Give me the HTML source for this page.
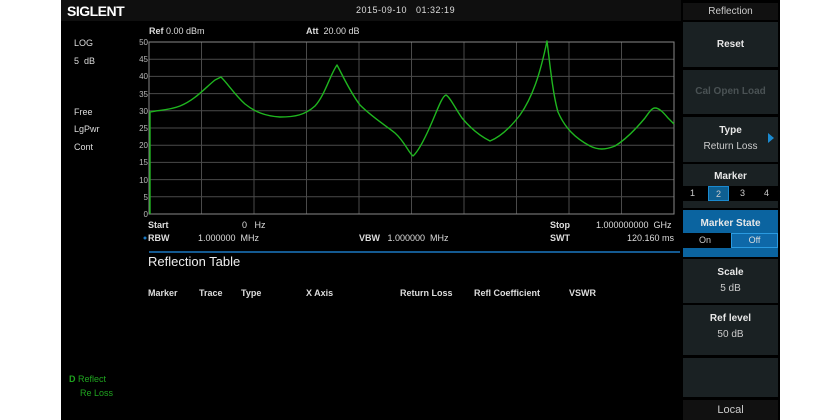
<!DOCTYPE html>
<html><head><meta charset="utf-8"><style>
body{margin:0;width:840px;height:420px;background:#fff;overflow:hidden;font-family:"Liberation Sans",sans-serif;}
#scr{position:absolute;left:61px;top:0;width:719px;height:420px;background:#000;}
.t{position:absolute;white-space:nowrap;}
.h{position:absolute;top:288px;color:#ddd;font-size:9px;font-weight:bold;white-space:nowrap}
.btn{position:absolute;left:683px;width:95px;background:#1a2123;color:#e8e8e8;text-align:center;font-size:10px;font-weight:bold;}
.sub{font-weight:normal;color:#ccc;}
</style></head><body>
<div id="scr"></div>
<div style="position:absolute;left:61px;top:0;width:620px;height:21px;background:#0f0f0f"></div>
<div class="t" style="left:67px;top:3px;color:#fff;font-weight:bold;font-size:14px;letter-spacing:-0.5px">SIGLENT</div>
<div class="t" style="left:356px;top:5px;color:#ddd;font-size:9px;letter-spacing:0.5px">2015-09-10&nbsp;&nbsp;&nbsp;01:32:19</div>
<div class="t" style="left:149px;top:26px;color:#ddd;font-size:9px"><b>Ref</b> 0.00 dBm</div>
<div class="t" style="left:306px;top:26px;color:#ddd;font-size:9px"><b>Att</b>&nbsp; 20.00 dB</div>
<div class="t" style="left:74px;top:38px;color:#ddd;font-size:9px">LOG</div>
<div class="t" style="left:74px;top:56px;color:#ddd;font-size:9px">5&nbsp; dB</div>
<div class="t" style="left:74px;top:107px;color:#ddd;font-size:9px">Free</div>
<div class="t" style="left:74px;top:124px;color:#ddd;font-size:9px">LgPwr</div>
<div class="t" style="left:74px;top:142px;color:#ddd;font-size:9px">Cont</div>
<div class="t" style="left:69px;top:374px;color:#1fa51f;font-size:9px"><b>D</b> Reflect</div>
<div class="t" style="left:80px;top:388px;color:#1fa51f;font-size:9px">Re Loss</div>
<svg style="position:absolute;left:0;top:0" width="840" height="420">
<g stroke="#4a4a4a" stroke-width="1">
<line x1="149" y1="59.2" x2="674" y2="59.2"/><line x1="149" y1="76.4" x2="674" y2="76.4"/><line x1="149" y1="93.6" x2="674" y2="93.6"/><line x1="149" y1="110.8" x2="674" y2="110.8"/><line x1="149" y1="128" x2="674" y2="128"/><line x1="149" y1="145.2" x2="674" y2="145.2"/><line x1="149" y1="162.4" x2="674" y2="162.4"/><line x1="149" y1="179.6" x2="674" y2="179.6"/><line x1="149" y1="196.8" x2="674" y2="196.8"/>
<line x1="201.5" y1="42" x2="201.5" y2="214"/><line x1="254" y1="42" x2="254" y2="214"/><line x1="306.5" y1="42" x2="306.5" y2="214"/><line x1="359" y1="42" x2="359" y2="214"/><line x1="411.5" y1="42" x2="411.5" y2="214"/><line x1="464" y1="42" x2="464" y2="214"/><line x1="516.5" y1="42" x2="516.5" y2="214"/><line x1="569" y1="42" x2="569" y2="214"/><line x1="621.5" y1="42" x2="621.5" y2="214"/>
</g>
<rect x="149" y="42" width="525" height="172" fill="none" stroke="#888" stroke-width="1"/>
<g fill="#bbb" font-size="8" font-family="Liberation Sans" text-anchor="end">
<text x="148" y="45">50</text><text x="148" y="62">45</text><text x="148" y="79">40</text><text x="148" y="97">35</text><text x="148" y="114">30</text><text x="148" y="131">25</text><text x="148" y="148">20</text><text x="148" y="165">15</text><text x="148" y="183">10</text><text x="148" y="200">5</text><text x="148" y="217">0</text>
</g>
<path fill="none" stroke="#1fb51f" stroke-width="1.4" stroke-linejoin="round" d="M150,214 L150,112
C160,110 170,110 180,106 C195,100 205,88 215,80 L221,77
C228,84 235,95 245,104 C255,112 265,116 280,117 C295,117 305,115 315,106 C325,95 330,75 337,65
C343,76 350,92 360,105 C372,117 385,125 395,133 C405,142 408,152 413,156
C420,150 428,132 435,115 C440,103 443,96 446,95 C450,97 455,108 462,118 C472,130 482,137 490,141
C500,137 510,128 520,115 C532,98 540,75 547,41
C550,65 553,95 558,112 C565,128 575,138 590,146 C598,150 605,150 615,146 C625,140 635,130 645,118 C650,111 652,108 655,108 C659,108 663,112 668,118 L674,124"/>
<line x1="149" y1="252" x2="680" y2="252" stroke="#1a78c2" stroke-width="1.5"/>
<circle cx="145" cy="238" r="1.5" fill="#1a78c2"/>
</svg>
<div class="t" style="left:148px;top:220px;color:#ddd;font-size:9px"><b>Start</b></div>
<div class="t" style="left:242px;top:220px;color:#ddd;font-size:9px">0&nbsp;&nbsp; Hz</div>
<div class="t" style="left:148px;top:233px;color:#ddd;font-size:9px"><b>RBW</b></div>
<div class="t" style="left:198px;top:233px;color:#ddd;font-size:9px">1.000000&nbsp; MHz</div>
<div class="t" style="left:359px;top:233px;color:#ddd;font-size:9px"><b>VBW</b>&nbsp;&nbsp; 1.000000&nbsp; MHz</div>
<div class="t" style="left:550px;top:220px;color:#ddd;font-size:9px"><b>Stop</b></div>
<div class="t" style="left:596px;top:220px;color:#ddd;font-size:9px">1.000000000&nbsp; GHz</div>
<div class="t" style="left:550px;top:233px;color:#ddd;font-size:9px"><b>SWT</b></div>
<div class="t" style="left:627px;top:233px;color:#ddd;font-size:9px">120.160 ms</div>
<div class="t" style="left:148px;top:254px;color:#eee;font-size:13px">Reflection Table</div>
<div class="h" style="left:148px">Marker</div>
<div class="h" style="left:199px">Trace</div>
<div class="h" style="left:241px">Type</div>
<div class="h" style="left:306px">X Axis</div>
<div class="h" style="left:400px">Return Loss</div>
<div class="h" style="left:474px">Refl Coefficient</div>
<div class="h" style="left:569px">VSWR</div>

<div class="btn" style="top:3px;height:17px;background:#111;font-weight:normal;line-height:17px;color:#ccc">Reflection</div>
<div class="btn" style="top:22px;height:45px;line-height:45px">Reset</div>
<div class="btn" style="top:70px;height:44px;line-height:44px;color:#4a5254">Cal Open Load</div>
<div class="btn" style="top:117px;height:45px"><div style="margin-top:8px">Type</div><div class="sub" style="margin-top:5px">Return Loss</div></div>
<div class="t" style="left:768px;top:133px;width:0;height:0;border-left:6px solid #1a8ad0;border-top:5px solid transparent;border-bottom:5px solid transparent"></div>
<div class="btn" style="top:164px;height:44px"><div style="margin-top:7px">Marker</div></div>
<div class="t" style="left:683px;top:186px;width:95px;height:15px;background:#000;color:#ccc;font-size:9px;line-height:15px">
<span style="position:absolute;left:7px">1</span><span style="position:absolute;left:25px;width:21px;height:15px;background:#0e5f91;border:1px solid #1a8ad0;box-sizing:border-box;text-align:center">2</span><span style="position:absolute;left:57px">3</span><span style="position:absolute;left:81px">4</span></div>
<div class="btn" style="top:210px;height:47px;background:#0b64a0"><div style="margin-top:8px">Marker State</div></div>
<div class="t" style="left:683px;top:233px;width:48px;height:15px;background:#000;color:#ccc;font-size:9px;line-height:15px;padding-left:16px;box-sizing:border-box">On</div>
<div class="t" style="left:731px;top:233px;width:47px;height:15px;background:#0e68a8;border:1px solid #2a9ae0;box-sizing:border-box;color:#ddd;font-size:9px;line-height:13px;text-align:center">Off</div>
<div class="btn" style="top:259px;height:44px"><div style="margin-top:8px">Scale</div><div class="sub" style="margin-top:5px">5 dB</div></div>
<div class="btn" style="top:305px;height:50px"><div style="margin-top:8px">Ref level</div><div class="sub" style="margin-top:5px">50 dB</div></div>
<div class="btn" style="top:358px;height:39px"></div>
<div class="btn" style="top:400px;height:20px;background:#111;font-weight:normal;font-size:11px;line-height:20px;color:#ccc">Local</div>
</body></html>
